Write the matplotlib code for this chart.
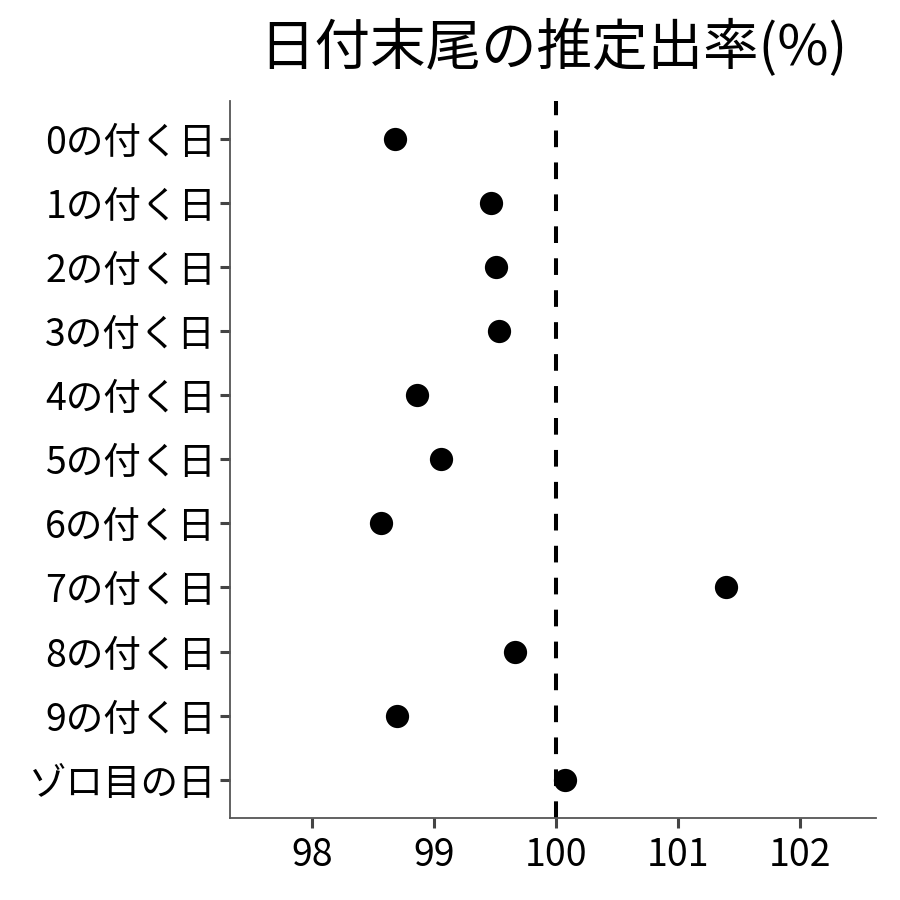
import matplotlib
matplotlib.use("Agg")
import matplotlib.pyplot as plt

plt.rcParams['font.family'] = ['Noto Sans CJK JP', 'DejaVu Sans']
plt.rcParams['lines.scale_dashes'] = False

labels = ["0の付く日", "1の付く日", "2の付く日", "3の付く日", "4の付く日",
          "5の付く日", "6の付く日", "7の付く日", "8の付く日", "9の付く日",
          "ゾロ目の日"]
rates = [98.68, 99.47, 99.51, 99.53, 98.86, 99.06, 98.57, 101.39, 99.66,
         98.70, 100.07]
xticks = [98, 99, 100, 101, 102]

fig = plt.figure(figsize=(9, 9), dpi=100)
ax = fig.add_axes([0.2556, 0.0911, 0.9733 - 0.2556, 0.888 - 0.0911])

ypos = list(range(len(labels)))
ax.axvline(100, color='black', lw=2.9, dashes=(12, 11), zorder=2)
ax.scatter(rates, ypos, s=280, color='black', zorder=3, linewidths=0)

ax.set_xlim(97.33, 102.62)
ax.set_ylim(len(labels) - 0.4, -0.6)
ax.set_xticks(xticks)
ax.set_xticklabels([str(t) for t in xticks])
ax.set_yticks(ypos)
ax.set_yticklabels(labels)

for s in ['top', 'right']:
    ax.spines[s].set_visible(False)
for s in ['left', 'bottom']:
    ax.spines[s].set_color('#555555')
    ax.spines[s].set_linewidth(1.3)
ax.tick_params(axis='both', colors='#444444', length=7, width=2.2,
               labelsize=27, labelcolor='black', pad=3)
ax.tick_params(axis='x', pad=6)

ax.set_title("日付末尾の推定出率(%)", fontsize=40, pad=26)

fig.savefig("out.png", dpi=100)
